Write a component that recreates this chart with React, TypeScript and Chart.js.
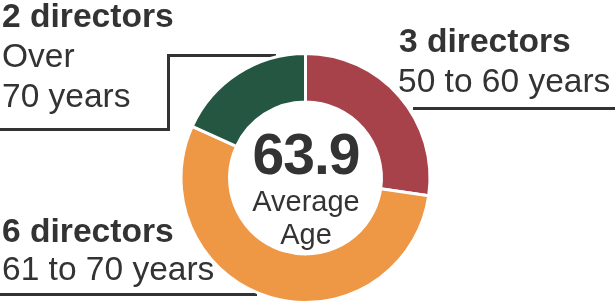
import React, { useEffect, useRef } from "react";
import { Chart, registerables } from "chart.js";

Chart.register(...registerables);

// ---- data ----
const categories = ["50 to 60 years", "61 to 70 years", "Over 70 years"];
const directorCounts = [3, 6, 2];
const categoryLines = [["50 to 60 years"], ["61 to 70 years"], ["Over", "70 years"]];
const sliceColors = ["#a8424a", "#ee9745", "#245642"];
const averageAge = 63.9;
const centerCaption = ["Average", "Age"];

const TEXT = "#333333";
const FONT = "'Liberation Sans', Arial, Helvetica, sans-serif";

const leaderPlugin = {
  id: "leaders",
  beforeDatasetsDraw(chart: any) {
    const ctx = chart.ctx;
    ctx.save();
    ctx.strokeStyle = TEXT;
    ctx.lineWidth = 3;
    ctx.lineJoin = "miter";
    ctx.beginPath();
    // Over 70 years
    ctx.moveTo(0, 129.5);
    ctx.lineTo(168.5, 129.5);
    ctx.lineTo(168.5, 55.5);
    ctx.lineTo(276, 55.5);
    // 50 to 60 years
    ctx.moveTo(413, 108.5);
    ctx.lineTo(615, 108.5);
    // 61 to 70 years
    ctx.moveTo(0, 294.5);
    ctx.lineTo(257, 294.5);
    ctx.stroke();
    ctx.restore();
  },
};

type LineProps = { text: string; x: number; baseline: number; size: number; bold?: boolean; center?: boolean };

function TextLine({ text, x, baseline, size, bold, center }: LineProps) {
  const top = baseline - size * 0.8465;
  const style: React.CSSProperties = {
    position: "absolute",
    top,
    left: center ? x - 150 : x,
    width: center ? 300 : undefined,
    textAlign: center ? "center" : "left",
    fontFamily: FONT,
    fontSize: size,
    lineHeight: `${size}px`,
    fontWeight: bold ? 700 : 400,
    color: TEXT,
    whiteSpace: "nowrap",
    letterSpacing: bold && size > 40 ? "-1px" : undefined,
  };
  return <div style={style}>{text}</div>;
}

export default function App() {
  const canvasRef = useRef<HTMLCanvasElement | null>(null);

  useEffect(() => {
    const canvas = canvasRef.current;
    if (!canvas) return;
    const chart = new Chart(canvas, {
      type: "doughnut",
      data: {
        labels: categories,
        datasets: [
          {
            data: directorCounts,
            backgroundColor: sliceColors,
            borderColor: "#ffffff",
            borderWidth: 3,
            hoverBorderWidth: 3,
          },
        ],
      },
      options: {
        responsive: false,
        animation: false,
        events: [],
        cutout: "61%",
        layout: { padding: { left: 179, top: 52, right: 183, bottom: 0 } },
        plugins: {
          legend: { display: false },
          tooltip: { enabled: false },
        },
      },
      plugins: [leaderPlugin],
    });
    return () => chart.destroy();
  }, []);

  return (
    <div style={{ position: "fixed", left: 0, top: 0, width: 615, height: 304, background: "#fff", overflow: "hidden" }}>
      <canvas ref={canvasRef} width={615} height={304} style={{ position: "absolute", left: 0, top: 0 }} />
      {/* Over 70 years */}
      <TextLine text={`${directorCounts[2]} directors`} x={2} baseline={27} size={33.6} bold />
      <TextLine text={categoryLines[2][0]} x={2} baseline={67} size={33.5} />
      <TextLine text={categoryLines[2][1]} x={2} baseline={107} size={33.5} />
      {/* 50 to 60 years */}
      <TextLine text={`${directorCounts[0]} directors`} x={399} baseline={52} size={33.6} bold />
      <TextLine text={categoryLines[0][0]} x={398} baseline={92} size={33.5} />
      {/* 61 to 70 years */}
      <TextLine text={`${directorCounts[1]} directors`} x={2} baseline={242} size={33.6} bold />
      <TextLine text={categoryLines[1][0]} x={2} baseline={280} size={33.5} />
      {/* center */}
      <TextLine text={averageAge.toFixed(1)} x={306} baseline={174} size={57} bold center />
      <TextLine text={centerCaption[0]} x={306} baseline={212} size={29} center />
      <TextLine text={centerCaption[1]} x={306} baseline={245} size={29} center />
    </div>
  );
}
